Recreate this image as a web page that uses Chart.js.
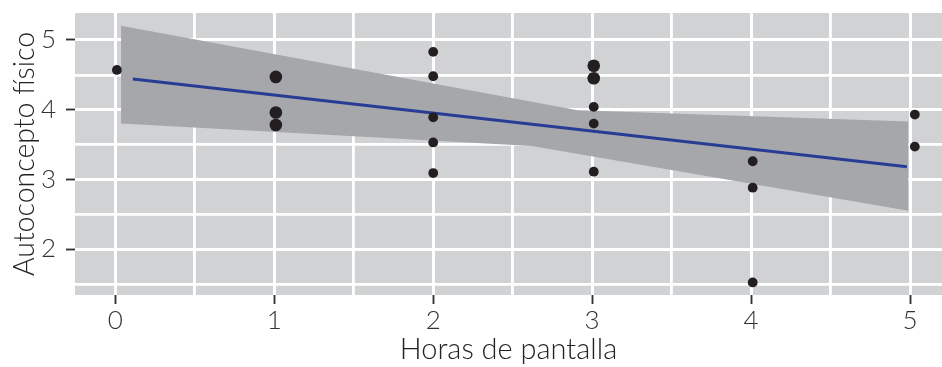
<!DOCTYPE html>
<html><head><meta charset="utf-8">
<script src="https://cdn.jsdelivr.net/npm/chart.js@4/dist/chart.umd.min.js"></script>
<style>html,body{margin:0;padding:0;background:#fff;}</style>
</head><body>
<canvas id="c" width="942" height="367"></canvas>
<script>
// ---- data ----
const hoursX       = [0.01, 1.01, 1.01, 1.01, 2, 2, 2, 2, 2, 3.01, 3.01, 3.01, 3.01, 3.01, 4.01, 4.01, 4.01, 5.03, 5.03];
const selfConcept  = [4.57, 4.47, 3.96, 3.78, 4.83, 4.48, 3.89, 3.53, 3.09, 4.63, 4.45, 4.04, 3.80, 3.11, 3.26, 2.88, 1.52, 3.93, 3.47];
const pointCounts  = [1, 2, 2, 2, 1, 1, 1, 1, 1, 2, 2, 1, 1, 1, 1, 1, 1, 1, 1];
const fitX = [0.11, 4.98];
const fitY = [4.44, 3.18];
const bandUpperX = [0.036, 2.91, 4.99];
const bandUpperY = [5.205, 3.99, 3.83];
const bandLowerX = [0.036, 2.62, 4.99];
const bandLowerY = [3.80, 3.48, 2.55];
const xGridValues = [0, 0.5, 1, 1.5, 2, 2.5, 3, 3.5, 4, 4.5, 5];
const yGridValues = [1.5, 2, 2.5, 3, 3.5, 4, 4.5, 5];
const xTickLabels = ['0', '1', '2', '3', '4', '5'];
const yTickLabels = ['2', '3', '4', '5'];
const xTitle = 'Horas de pantalla';
const yTitle = 'Autoconcepto físico';

const toXY = (xs, ys) => xs.map((x, i) => ({x: x, y: ys[i]}));
const isMajor = v => Number.isInteger(v);
const PANEL = '#d1d2d4';

const panelPlugin = {
  id: 'panel',
  beforeDraw(chart) {
    const {ctx, chartArea: a} = chart;
    ctx.save();
    ctx.fillStyle = PANEL;
    ctx.fillRect(a.left, a.top, a.right - a.left, a.bottom - a.top);
    ctx.restore();
  },
  beforeDatasetsDraw(chart) {
    // grid lines drawn over the confidence band, below the fit line and points
    chart.scales.x.drawGrid(chart.chartArea);
    chart.scales.y.drawGrid(chart.chartArea);
  }
};

function gridOpts() {
  return {
    color: '#ffffff',
    lineWidth: c => (c.tick && isMajor(c.tick.value)) ? 3 : 2.6,
    tickLength: 9,
    tickWidth: 1.5,
    tickColor: c => (c.tick && isMajor(c.tick.value)) ? '#333333' : 'rgba(0,0,0,0)'
  };
}

new Chart(document.getElementById('c'), {
  type: 'scatter',
  data: {
    datasets: [
      {
        label: 'puntos',
        data: toXY(hoursX, selfConcept),
        backgroundColor: '#231f20',
        borderWidth: 0,
        pointRadius: pointCounts.map(n => n > 1 ? 6.3 : 4.9),
        order: 0
      },
      {
        label: 'ajuste',
        data: toXY(fitX, fitY),
        showLine: true,
        borderColor: '#283c96',
        borderWidth: 3,
        pointRadius: 0,
        fill: false,
        order: 1
      },
      {
        label: 'banda sup',
        data: toXY(bandUpperX, bandUpperY),
        showLine: true,
        borderWidth: 0,
        borderColor: 'rgba(0,0,0,0)',
        pointRadius: 0,
        backgroundColor: '#a6a7aa',
        fill: '+1',
        order: 2
      },
      {
        label: 'banda inf',
        data: toXY(bandLowerX, bandLowerY),
        showLine: true,
        borderWidth: 0,
        borderColor: 'rgba(0,0,0,0)',
        pointRadius: 0,
        fill: false,
        order: 3
      }
    ]
  },
  options: {
    responsive: false,
    animation: false,
    layout: {autoPadding: false, padding: {top: 13, right: 0, bottom: 0, left: 0}},
    plugins: {legend: {display: false}, tooltip: {enabled: false}},
    scales: {
      x: {
        type: 'linear',
        min: -0.2536, max: 5.201,
        afterBuildTicks: s => { s.ticks = xGridValues.map(v => ({value: v})); },
        afterFit: s => { s.height = 72; s.paddingLeft = 0; s.paddingRight = 0; },
        grid: gridOpts(),
        border: {display: false},
        ticks: {
          autoSkip: false, maxRotation: 0, padding: 1,
          color: '#333333',
          font: {family: 'Lato', size: 26, weight: 300},
          callback: v => isMajor(v) ? xTickLabels[v] : ''
        },
        title: {display: true, text: xTitle, color: '#222222',
                font: {family: 'Lato', size: 29, weight: 300}, padding: {top: 0, bottom: 0}}
      },
      y: {
        type: 'linear',
        min: 1.34, max: 5.3875,
        afterBuildTicks: s => { s.ticks = yGridValues.map(v => ({value: v})); },
        afterFit: s => { s.width = 75; s.paddingTop = 0; s.paddingBottom = 0; },
        grid: gridOpts(),
        border: {display: false},
        ticks: {
          autoSkip: false, padding: 10,
          color: '#333333',
          font: {family: 'Lato', size: 26, weight: 300},
          callback: v => isMajor(v) ? yTickLabels[v - 2] : ''
        },
        title: {display: true, text: yTitle, color: '#222222',
                font: {family: 'Lato', size: 28.5, weight: 300}, padding: {top: 8, bottom: 0}}
      }
    }
  },
  plugins: [panelPlugin]
});
</script>
</body></html>
